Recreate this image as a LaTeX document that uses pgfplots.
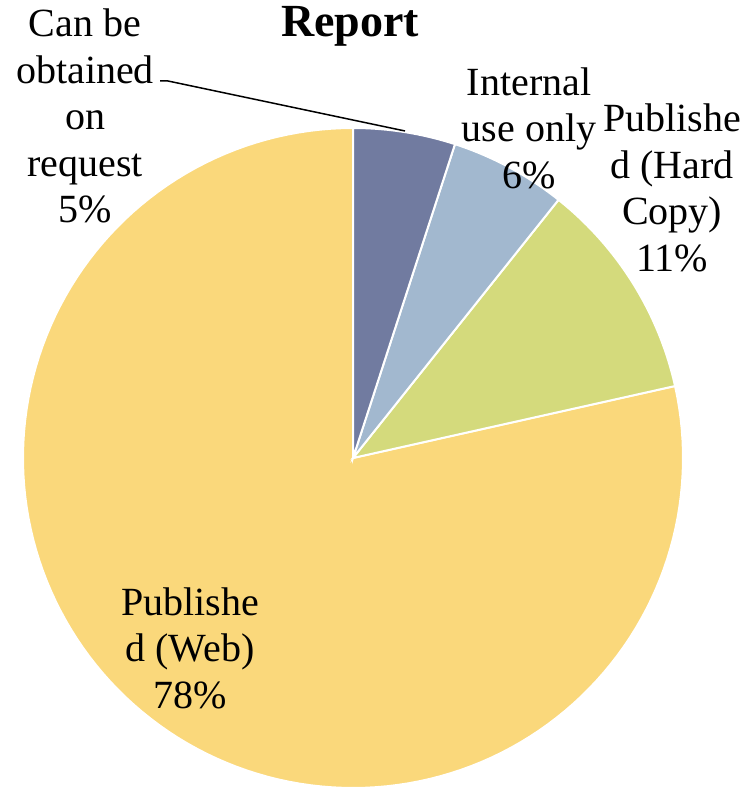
\documentclass[border=0pt]{standalone}
\usepackage{pgfplots}
\pgfplotsset{compat=1.18}
\usepackage{fontspec}
\setmainfont{Liberation Serif}
\definecolor{cA}{HTML}{717BA0}
\definecolor{cB}{HTML}{A2B8CF}
\definecolor{cC}{HTML}{D4DA7C}
\definecolor{cD}{HTML}{FAD87B}
% slice shares (percent), clockwise from 12 o'clock
\def\vA{5.0}
\def\vB{5.7}
\def\vC{10.8}
\def\vD{78.5}
\def\R{330}
\tikzset{lbl/.style={font=\fontsize{40}{46.5}\selectfont,align=center,inner sep=0pt}}
\begin{document}
\begin{tikzpicture}
\pgfmathsetmacro{\aA}{90}
\pgfmathsetmacro{\aB}{90-3.6*\vA}
\pgfmathsetmacro{\aC}{\aB-3.6*\vB}
\pgfmathsetmacro{\aD}{\aC-3.6*\vC}
\pgfmathsetmacro{\aE}{\aD-3.6*\vD}
\begin{axis}[x=1pt,y=1pt,xmin=-353,xmax=392,ymin=-334,ymax=458,
  hide axis,clip=false]
\path (axis cs:-353,-334) rectangle (axis cs:392,458);
\addplot[draw=white,line width=2pt,fill=cD,domain=\aE:\aD,samples=150,variable=\t]
  ({\R*cos(t)},{\R*sin(t)}) -- (axis cs:0,0) -- cycle;
\addplot[draw=white,line width=2pt,fill=cC,domain=\aD:\aC,samples=30,variable=\t]
  ({\R*cos(t)},{\R*sin(t)}) -- (axis cs:0,0) -- cycle;
\addplot[draw=white,line width=2pt,fill=cB,domain=\aC:\aB,samples=20,variable=\t]
  ({\R*cos(t)},{\R*sin(t)}) -- (axis cs:0,0) -- cycle;
\addplot[draw=white,line width=2pt,fill=cA,domain=\aB:\aA,samples=20,variable=\t]
  ({\R*cos(t)},{\R*sin(t)}) -- (axis cs:0,0) -- cycle;
\draw[black,line width=1.5pt] (axis cs:-193,377) -- (axis cs:-185,377) -- (axis cs:52,327);
\node[font=\fontsize{46}{50}\selectfont\bfseries,inner sep=0pt] at (axis cs:-3,432) {Report};
\node[lbl] at (axis cs:-268,342) {Can be\\obtained\\on\\request\\5\%};
\node[lbl] at (axis cs:176,330) {Internal\\use only\\6\%};
\node[lbl] at (axis cs:319,270) {Publishe\\d (Hard\\Copy)\\11\%};
\node[lbl] at (axis cs:-163,-190) {Publishe\\d (Web)\\78\%};
\end{axis}
\end{tikzpicture}
\end{document}
